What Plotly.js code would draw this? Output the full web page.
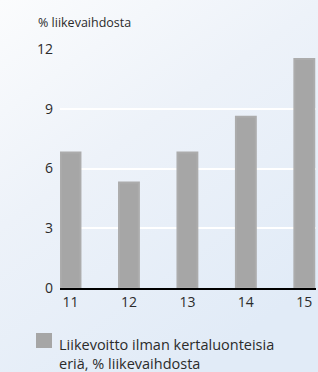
<!DOCTYPE html>
<html>
<head>
<meta charset="utf-8">
<script src="https://cdn.plot.ly/plotly-3.0.1.min.js"></script>
<style>html,body{margin:0;padding:0;background:#fff;}#chart{width:318px;height:372px;}</style>
</head>
<body>
<div id="chart"></div>
<script>
var years = ['11', '12', '13', '14', '15'];
var values = [6.8, 5.3, 6.8, 8.6, 11.5];
var yTicks = [0, 3, 6, 9, 12];
var legendLines = ['Liikevoitto ilman kertaluonteisia', 'eriä, % liikevaihdosta'];
var axisTitle = '% liikevaihdosta';

var fontFam = '"Open Sans", "DejaVu Sans", sans-serif';
var textColor = '#2b2b2b';
var barColor = '#a6a6a6';

// pixel helpers (plot area: x 60..316, y 49..288)
function px(x) { return (x - 60) / 256; }
function py(y) { return (288 - y) / 239; }

var bg = 'data:image/svg+xml;charset=utf-8,' + encodeURIComponent(
  '<svg xmlns="http://www.w3.org/2000/svg" width="318" height="372">' +
  '<defs><linearGradient id="g" x1="0" y1="0" x2="0.6" y2="1">' +
  '<stop offset="0" stop-color="#fbfcfd"/><stop offset="0.45" stop-color="#edf2f9"/>' +
  '<stop offset="1" stop-color="#e1ebf7"/></linearGradient></defs>' +
  '<rect width="318" height="372" fill="url(#g)"/></svg>');

var trace = {
  type: 'bar',
  x: years,
  y: values,
  name: legendLines.join(' '),
  width: 0.34,
  marker: {color: barColor, line: {color: '#acacac', width: 2}},
  showlegend: false,
  hoverinfo: 'x+y'
};

var layout = {
  width: 318,
  height: 372,
  margin: {l: 60, r: 2, t: 49, b: 84},
  paper_bgcolor: 'rgba(0,0,0,0)',
  plot_bgcolor: 'rgba(0,0,0,0)',
  font: {family: fontFam, size: 14, color: textColor},
  showlegend: false,
  images: [{
    source: bg, xref: 'paper', yref: 'paper',
    x: px(0), y: py(0), sizex: 318/256, sizey: 372/239,
    xanchor: 'left', yanchor: 'top', sizing: 'stretch', layer: 'below'
  }],
  xaxis: {
    type: 'category',
    range: [-0.18, 4.2],
    showgrid: false,
    zeroline: false,
    showline: true,
    linecolor: '#000000',
    linewidth: 2,
    ticks: '',
    tickfont: {family: fontFam, size: 14, color: textColor},
    fixedrange: true,
    automargin: false
  },
  yaxis: {
    range: [0, 12],
    tickvals: yTicks,
    ticktext: yTicks.map(String),
    showgrid: true,
    gridcolor: '#ffffff',
    gridwidth: 2,
    zeroline: false,
    showline: false,
    ticks: '',
    ticklabelstandoff: 6,
    tickfont: {family: fontFam, size: 14, color: textColor},
    fixedrange: true,
    automargin: false
  },
  shapes: [{
    type: 'rect', xref: 'paper', yref: 'paper',
    x0: px(36), x1: px(52), y0: py(333), y1: py(348),
    fillcolor: barColor, line: {width: 0}
  }],
  annotations: [{
    text: axisTitle, xref: 'paper', yref: 'paper',
    x: px(36), y: py(22), xanchor: 'left', yanchor: 'middle',
    showarrow: false, font: {family: fontFam, size: 12.5, color: textColor}
  }, {
    text: legendLines.join('<br>'), xref: 'paper', yref: 'paper',
    x: px(58), y: py(354), xanchor: 'left', yanchor: 'middle', align: 'left',
    borderpad: 0,
    showarrow: false, font: {family: fontFam, size: 14.5, color: textColor}
  }]
};

Plotly.newPlot('chart', [trace], layout, {displayModeBar: false, staticPlot: true});
</script>
</body>
</html>
